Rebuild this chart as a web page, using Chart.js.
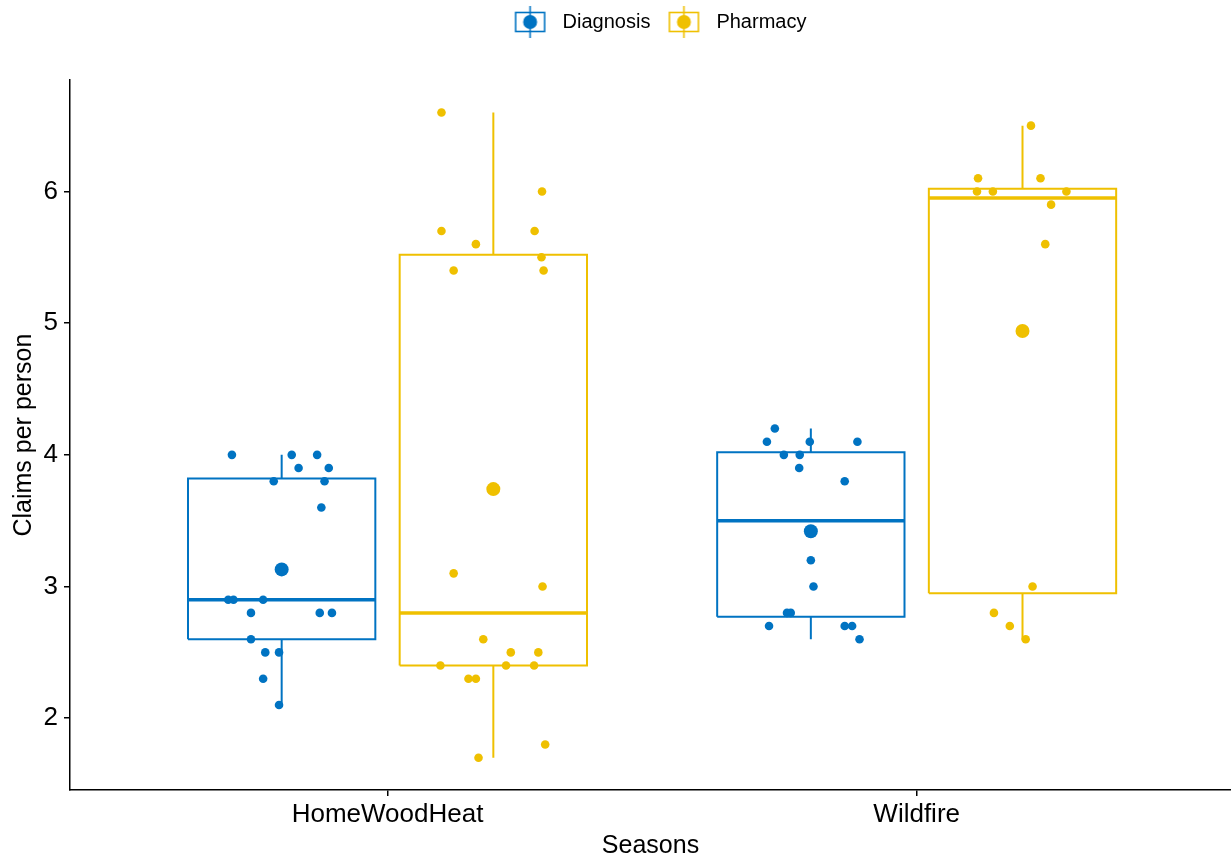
<!DOCTYPE html>
<html>
<head>
<meta charset="utf-8">
<script src="https://cdn.jsdelivr.net/npm/chart.js@4.4.1/dist/chart.umd.min.js"></script>
<style>
  html, body { margin: 0; padding: 0; background: #fff; }
  #wrap { width: 1231px; height: 860px; }
</style>
</head>
<body>
<div id="wrap"><canvas id="myChart"></canvas></div>
<script>
'use strict';

var seasons = ['HomeWoodHeat', 'Wildfire'];
var groups = ['Diagnosis', 'Pharmacy'];
var groupColors = ['#0073C2', '#EFC000'];
var yTicks = [2, 3, 4, 5, 6];

// box stats, [group][season]
var whiskerLow = [[2.1, 2.6], [1.7, 2.6]];
var boxQ1 = [[2.6, 2.77], [2.4, 2.95]];
var boxMedian = [[2.9, 3.5], [2.8, 5.95]];
var boxQ3 = [[3.82, 4.02], [5.52, 6.02]];
var whiskerHigh = [[4.0, 4.2], [6.6, 6.5]];
var meanValues = [[3.13, 3.42], [3.74, 4.94]];

// jittered points
var diagnosisHomeX = [0.706, 0.819, 0.867, 0.832, 0.889, 0.785, 0.881, 0.875, 0.699, 0.709, 0.765, 0.742, 0.872, 0.895, 0.742, 0.769, 0.795, 0.765, 0.795];
var diagnosisHomeY = [4.0, 4.0, 4.0, 3.9, 3.9, 3.8, 3.8, 3.6, 2.9, 2.9, 2.9, 2.8, 2.8, 2.8, 2.6, 2.5, 2.5, 2.3, 2.1];
var pharmacyHomeX = [1.102, 1.292, 1.102, 1.278, 1.167, 1.291, 1.125, 1.295, 1.125, 1.293, 1.181, 1.233, 1.285, 1.100, 1.224, 1.277, 1.153, 1.167, 1.298, 1.172];
var pharmacyHomeY = [6.6, 6.0, 5.7, 5.7, 5.6, 5.5, 5.4, 5.4, 3.1, 3.0, 2.6, 2.5, 2.5, 2.4, 2.4, 2.4, 2.3, 2.3, 1.8, 1.7];
var diagnosisWildX = [1.732, 1.717, 1.798, 1.888, 1.749, 1.779, 1.778, 1.864, 1.800, 1.805, 1.755, 1.762, 1.721, 1.864, 1.878, 1.892];
var diagnosisWildY = [4.2, 4.1, 4.1, 4.1, 4.0, 4.0, 3.9, 3.8, 3.2, 3.0, 2.8, 2.8, 2.7, 2.7, 2.7, 2.6];
var pharmacyWildX = [2.216, 2.116, 2.234, 2.114, 2.144, 2.283, 2.254, 2.243, 2.219, 2.146, 2.176, 2.206];
var pharmacyWildY = [6.5, 6.1, 6.1, 6.0, 6.0, 6.0, 5.9, 5.6, 3.0, 2.8, 2.7, 2.6];

var pointsX = [[diagnosisHomeX, diagnosisWildX], [pharmacyHomeX, pharmacyWildX]];
var pointsY = [[diagnosisHomeY, diagnosisWildY], [pharmacyHomeY, pharmacyWildY]];

var dodge = [-0.2, 0.2];
var halfBox = 0.177;

function lineSet(points, color, width) {
  return {
    type: 'line',
    data: points,
    borderColor: color,
    borderWidth: width,
    pointRadius: 0,
    fill: false,
    tension: 0,
    showLine: true
  };
}

function zip(xs, ys) {
  var out = [];
  for (var i = 0; i < xs.length; i++) {
    out.push({x: xs[i], y: ys[i]});
  }
  return out;
}

var boxSets = [];
var pointSets = [];
var meanSets = [];

for (var g = 0; g < groups.length; g++) {
  var color = groupColors[g];
  for (var s = 0; s < seasons.length; s++) {
    var cx = s + 1 + dodge[g];
    var l = cx - halfBox;
    var r = cx + halfBox;
    boxSets.push(lineSet([{x: cx, y: boxQ3[g][s]}, {x: cx, y: whiskerHigh[g][s]}], color, 2));
    boxSets.push(lineSet([{x: cx, y: boxQ1[g][s]}, {x: cx, y: whiskerLow[g][s]}], color, 2));
    boxSets.push(lineSet([
      {x: l, y: boxQ1[g][s]}, {x: r, y: boxQ1[g][s]},
      {x: r, y: boxQ3[g][s]}, {x: l, y: boxQ3[g][s]},
      {x: l, y: boxQ1[g][s]}
    ], color, 2));
    boxSets.push(lineSet([{x: l, y: boxMedian[g][s]}, {x: r, y: boxMedian[g][s]}], color, 3.5));

    pointSets.push({
      type: 'scatter',
      data: zip(pointsX[g][s], pointsY[g][s]),
      backgroundColor: color,
      borderWidth: 0,
      pointRadius: 4.3
    });
    meanSets.push({
      type: 'scatter',
      data: [{x: cx, y: meanValues[g][s]}],
      backgroundColor: color,
      borderWidth: 0,
      pointRadius: 7
    });
  }
}

function makeIcon(color) {
  var c = document.createElement('canvas');
  c.width = 44;
  c.height = 34;
  var ctx = c.getContext('2d');
  ctx.strokeStyle = color;
  ctx.lineWidth = 1.6;
  ctx.strokeRect(7, 7.5, 29, 19);
  ctx.beginPath();
  ctx.moveTo(21.5, 1);
  ctx.lineTo(21.5, 33);
  ctx.stroke();
  ctx.fillStyle = color;
  ctx.beginPath();
  ctx.arc(21.5, 17, 7, 0, Math.PI * 2);
  ctx.fill();
  return c;
}

var icons = groupColors.map(makeIcon);

// legend sits a bit right of the page centre in the original
var legendShift = {
  id: 'legendShift',
  afterUpdate: function (chart) {
    chart.legend.left += 42;
    chart.legend.right += 42;
  }
};

var ctx = document.getElementById('myChart').getContext('2d');
var chart = new Chart(ctx, {
  type: 'scatter',
  data: {
    datasets: boxSets.concat(pointSets, meanSets)
  },
  plugins: [legendShift],
  options: {
    responsive: true,
    maintainAspectRatio: false,
    animation: false,
    layout: { padding: 0, autoPadding: false },
    plugins: {
      tooltip: { enabled: false },
      title: {
        display: true,
        text: ' ',
        weight: 500,
        font: { size: 1 },
        padding: { top: 0, bottom: 37 }
      },
      legend: {
        position: 'top',
        labels: {
          usePointStyle: true,
          pointStyleWidth: 44,
          padding: 12,
          color: '#000',
          font: { family: 'Liberation Sans', size: 20 },
          generateLabels: function () {
            return groups.map(function (name, i) {
              return {
                text: name,
                pointStyle: icons[i],
                fillStyle: groupColors[i],
                strokeStyle: groupColors[i],
                lineWidth: 0,
                hidden: false,
                datasetIndex: i
              };
            });
          }
        },
        onClick: function () {}
      }
    },
    scales: {
      x: {
        type: 'linear',
        min: 0.4,
        max: 2.594,
        afterFit: function (scale) { scale.height = 70; },
        afterBuildTicks: function (scale) {
          scale.ticks = [{value: 1}, {value: 2}];
        },
        ticks: {
          color: '#000',
          padding: 3,
          font: { family: 'Liberation Sans', size: 26 },
          callback: function (value) { return seasons[value - 1]; }
        },
        grid: { drawOnChartArea: false, color: '#000', tickLength: 6, lineWidth: 1.5 },
        border: { color: '#000', width: 1.5 },
        title: {
          display: true,
          text: 'Seasons',
          color: '#000',
          font: { family: 'Liberation Sans', size: 25, lineHeight: 1.1 },
          padding: { top: 0, bottom: 0 }
        }
      },
      y: {
        min: 1.455,
        max: 6.845,
        afterFit: function (scale) { scale.width = 70; },
        afterBuildTicks: function (scale) {
          scale.ticks = yTicks.map(function (v) { return {value: v}; });
        },
        ticks: {
          color: '#000',
          padding: 6,
          font: { family: 'Liberation Sans', size: 26 }
        },
        grid: { drawOnChartArea: false, color: '#000', tickLength: 6, lineWidth: 1.5 },
        border: { color: '#000', width: 1.5 },
        title: {
          display: true,
          text: 'Claims per person',
          color: '#000',
          font: { family: 'Liberation Sans', size: 25 },
          padding: { top: 9, bottom: 0 }
        }
      }
    }
  }
});
</script>
</body>
</html>
